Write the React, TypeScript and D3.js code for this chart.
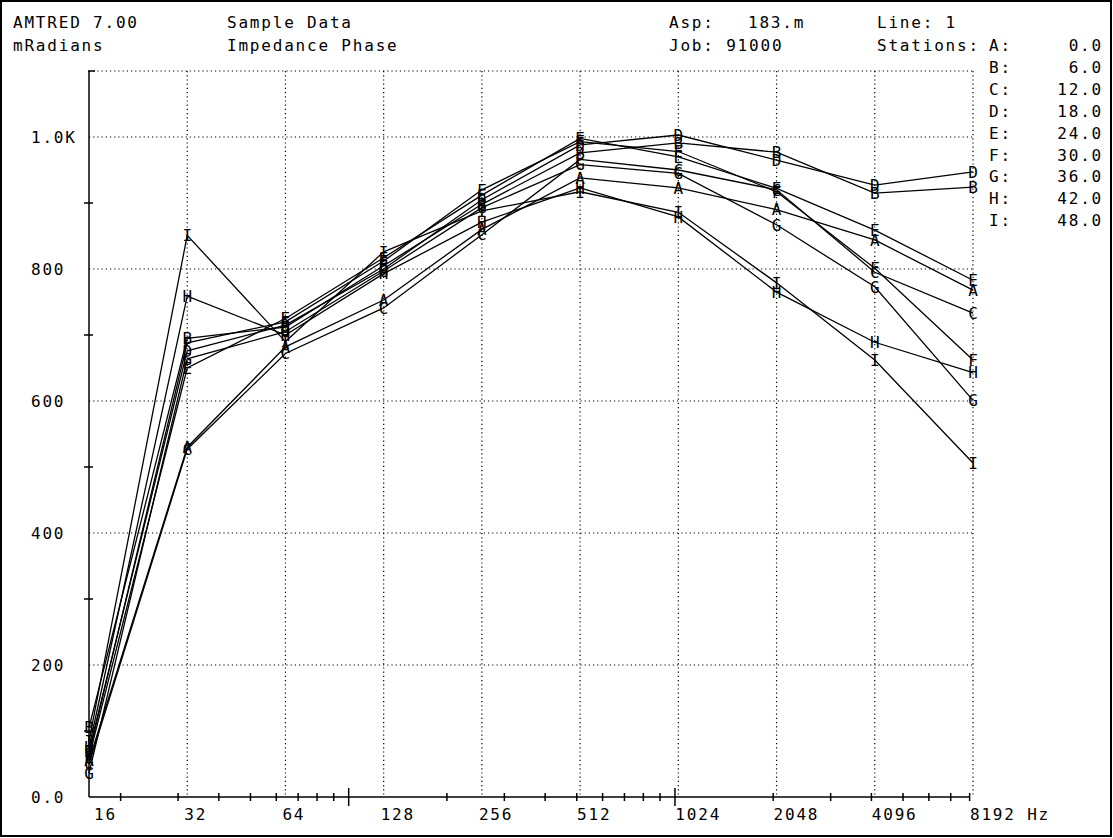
import React, { useEffect, useRef } from 'react';
import * as d3 from 'd3';

// frequencies (Hz) and phase values (mRadians) per station
const freqs = [16, 32, 64, 128, 256, 512, 1024, 2048, 4096, 8192];
const stations = ['A', 'B', 'C', 'D', 'E', 'F', 'G', 'H', 'I'];
const stationPos = ['0.0', '6.0', '12.0', '18.0', '24.0', '30.0', '36.0', '42.0', '48.0'];

const phaseA = [55, 530, 682, 753, 860, 938, 923, 890, 844, 768];
const phaseB = [105, 695, 712, 805, 898, 976, 991, 977, 915, 924];
const phaseC = [50, 527, 672, 741, 852, 966, 950, 920, 795, 733];
const phaseD = [70, 676, 715, 800, 905, 988, 1003, 965, 927, 947];
const phaseE = [60, 650, 725, 817, 912, 998, 970, 922, 859, 783];
const phaseF = [65, 688, 720, 812, 920, 993, 978, 917, 801, 662];
const phaseG = [36, 664, 705, 797, 893, 958, 945, 867, 773, 601];
const phaseH = [75, 759, 700, 793, 871, 923, 879, 765, 689, 643];
const phaseI = [85, 851, 690, 826, 888, 917, 886, 779, 662, 506];

const yTickVals = [0, 200, 400, 600, 800, 1000];
const yTickText = ['0.0', '200', '400', '600', '800', '1.0K'];
const xTickText = ['16', '32', '64', '128', '256', '512', '1024', '2048', '4096', '8192 Hz'];

const FONT = '"DejaVu Sans Mono", "Liberation Mono", monospace';

const App = () => {
  const svgRef = useRef<SVGSVGElement>(null);

  useEffect(() => {
    const svg = d3.select(svgRef.current);
    svg.selectAll('*').remove();

    const W = 1113, H = 838;
    const left = 89, right = 973, top = 71, bottom = 797;

    svg.attr('width', W).attr('height', H);

    const x = d3.scaleLog().domain([16, 8192]).range([left, right]);
    const y = d3.scaleLinear().domain([0, 1100]).range([bottom, top]);

    const series = [phaseA, phaseB, phaseC, phaseD, phaseE, phaseF, phaseG, phaseH, phaseI];

    // outer frame
    svg.append('rect')
      .attr('x', 1).attr('y', 1).attr('width', W - 3).attr('height', H - 3)
      .attr('fill', 'white').attr('stroke', 'black').attr('stroke-width', 2);

    const txt = (s: string, tx: number, ty: number, anchor = 'start') =>
      svg.append('text')
        .attr('x', tx).attr('y', ty)
        .attr('text-anchor', anchor)
        .attr('font-family', FONT).attr('font-size', 16)
        .attr('letter-spacing', anchor === 'start' ? 1.8 : 0)
        .attr('fill', 'black')
        .text(s);

    // header
    txt('AMTRED 7.00', 13, 28);
    txt('Sample Data', 227, 28);
    txt('mRadians', 13, 51);
    txt('Impedance Phase', 227, 51);
    txt('Asp:', 669, 28);
    txt('183.m', 748, 28);
    txt('Job: 91000', 669, 51);
    txt('Line: 1', 877, 28);
    txt('Stations:', 877, 51);
    stations.forEach((s, i) => {
      txt(s + ':', 989, 51 + i * 21.9);
      svg.append('text')
        .attr('x', 1103).attr('y', 51 + i * 21.9)
        .attr('text-anchor', 'end')
        .attr('font-family', FONT).attr('font-size', 16)
        .attr('letter-spacing', 1.8)
        .text(stationPos[i]);
    });

    // dotted grid
    const grid = svg.append('g')
      .attr('stroke', 'black').attr('stroke-width', 1.2)
      .attr('stroke-dasharray', '1.2,3');
    freqs.slice(1).forEach(f => {
      grid.append('line')
        .attr('x1', x(f)).attr('x2', x(f))
        .attr('y1', top).attr('y2', bottom);
    });
    [200, 400, 600, 800, 1000, 1100].forEach(v => {
      grid.append('line')
        .attr('x1', left).attr('x2', right)
        .attr('y1', y(v)).attr('y2', y(v));
    });

    // axes
    const ax = svg.append('g').attr('stroke', 'black').attr('stroke-width', 1.5);
    ax.append('line').attr('x1', left).attr('x2', x(8000)).attr('y1', bottom).attr('y2', bottom);
    ax.append('line').attr('x1', left).attr('x2', left).attr('y1', top).attr('y2', bottom);
    ax.append('line').attr('x1', left - 1).attr('x2', left + 6).attr('y1', top).attr('y2', top);

    const minor = [20, 30, 40, 50, 60, 70, 80, 90, 200, 300, 400, 500, 600, 700, 800, 900,
      2000, 3000, 4000, 5000, 6000, 7000, 8000];
    minor.forEach(f => {
      ax.append('line').attr('x1', x(f)).attr('x2', x(f))
        .attr('y1', bottom - 4).attr('y2', bottom + 4);
    });
    [100, 1000].forEach(f => {
      ax.append('line').attr('x1', x(f)).attr('x2', x(f))
        .attr('y1', bottom - 9).attr('y2', bottom + 9);
    });
    d3.range(100, 1100, 200).forEach(v => {
      ax.append('line').attr('x1', left - 5).attr('x2', left + 4)
        .attr('y1', y(v)).attr('y2', y(v));
    });

    yTickVals.forEach((v, i) => txt(yTickText[i], 31, y(v) + 6));
    freqs.forEach((f, i) => txt(xTickText[i], i === 0 ? x(f) + 5 : x(f) - 3, 820));

    // lines
    const line = d3.line<number>()
      .x((d, i) => x(freqs[i]))
      .y(d => y(d));

    series.forEach(vals => {
      svg.append('path')
        .datum(vals)
        .attr('d', line)
        .attr('fill', 'none')
        .attr('stroke', 'black')
        .attr('stroke-width', 1.3);
    });

    // letter markers
    series.forEach((vals, si) => {
      svg.append('g')
        .selectAll('text')
        .data(vals)
        .enter()
        .append('text')
        .attr('x', (d, i) => x(freqs[i]))
        .attr('y', d => y(d))
        .attr('dy', '0.36em')
        .attr('text-anchor', 'middle')
        .attr('font-family', FONT)
        .attr('font-size', 16)
        .attr('fill', 'black')
        .text(stations[si]);
    });
  }, []);

  return (
    <svg
      ref={svgRef}
      style={{ position: 'fixed', left: 0, top: 0, background: 'white' }}
      aria-label="Impedance Phase"
    />
  );
};

export default App;
